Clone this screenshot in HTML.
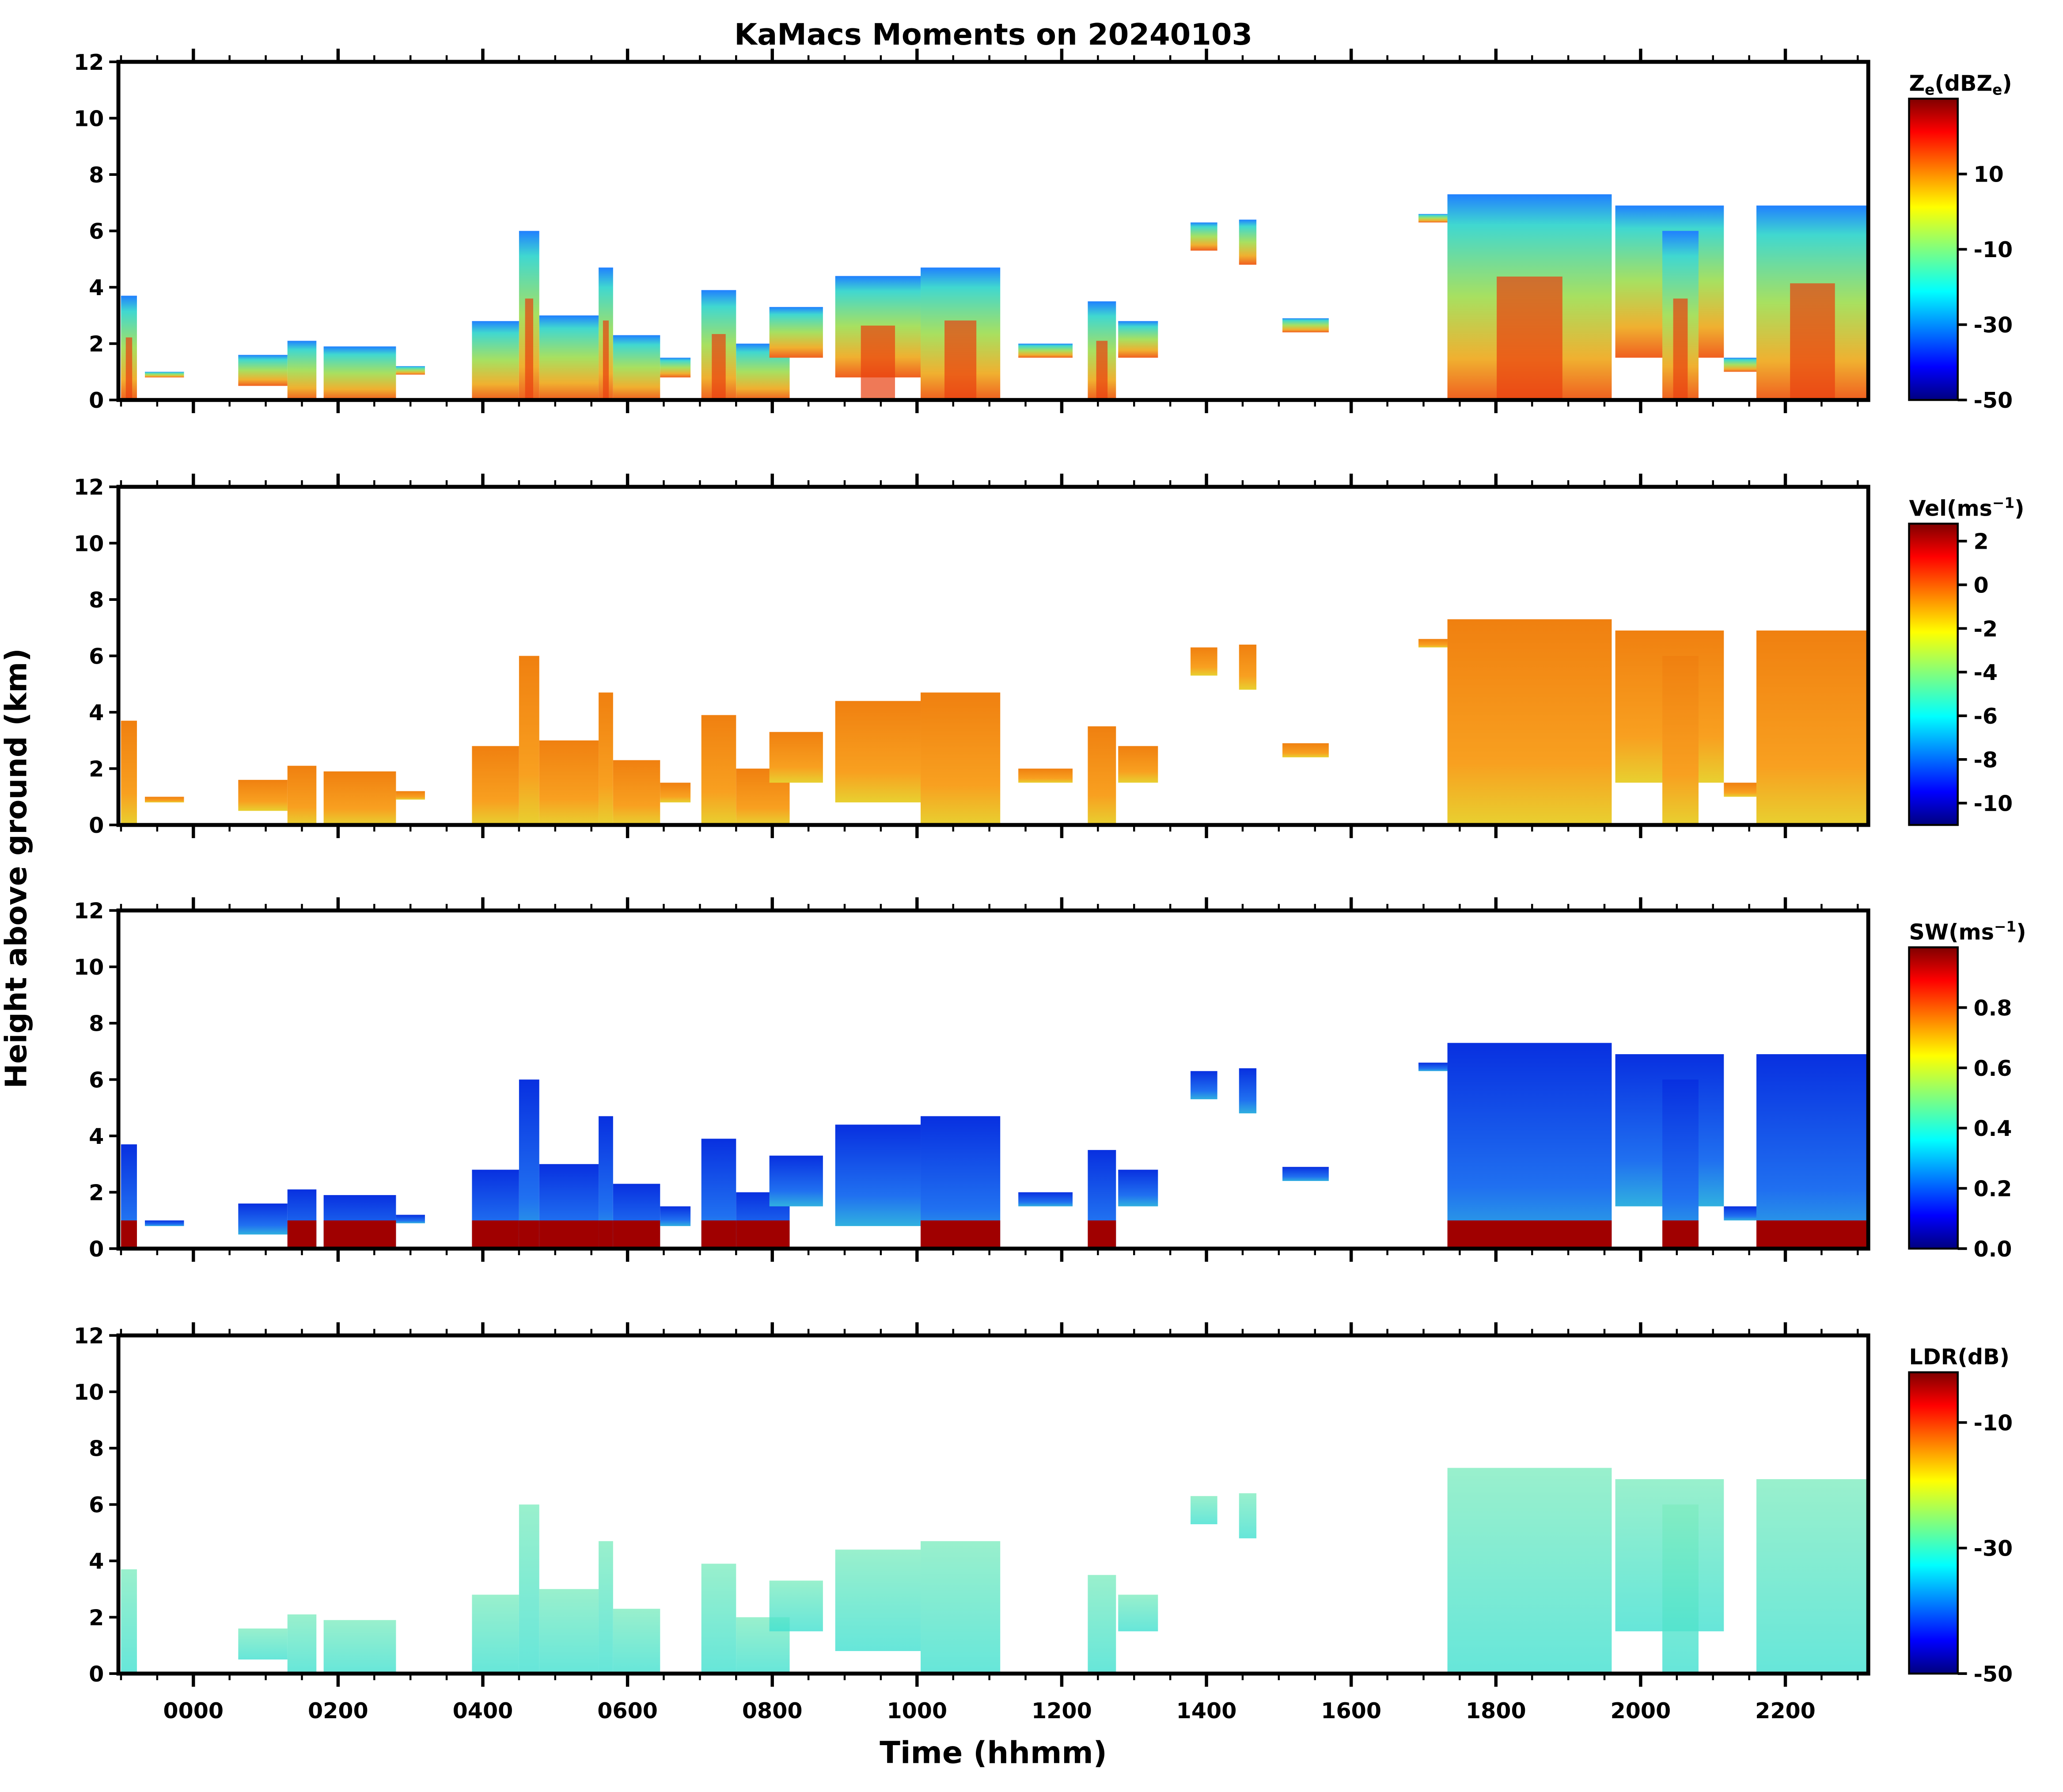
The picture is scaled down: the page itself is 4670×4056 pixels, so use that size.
<!DOCTYPE html>
<html><head><meta charset="utf-8"><style>
html,body{margin:0;padding:0;background:#fff}
svg{display:block}
text{font-family:"DejaVu Sans","Liberation Sans",sans-serif;font-weight:bold;fill:#000}
</style></head><body>
<svg id="chart" width="4670" height="4056" viewBox="0 0 1568 1362" preserveAspectRatio="none" xmlns="http://www.w3.org/2000/svg">
<defs>
<linearGradient id="jet" x1="0" y1="1" x2="0" y2="0">
<stop offset="0" stop-color="#00007f"/><stop offset="0.11" stop-color="#0000ff"/><stop offset="0.36" stop-color="#00ffff"/>
<stop offset="0.5" stop-color="#7fff7f"/><stop offset="0.64" stop-color="#ffff00"/><stop offset="0.89" stop-color="#ff0000"/><stop offset="1" stop-color="#7f0000"/>
</linearGradient>
<linearGradient id="gZe" x1="0" y1="0" x2="0" y2="1">
<stop offset="0" stop-color="#2080ff"/><stop offset="0.15" stop-color="#40d8d0"/><stop offset="0.5" stop-color="#a8e060"/><stop offset="0.8" stop-color="#f0b030"/><stop offset="1" stop-color="#f06020"/>
</linearGradient>
<linearGradient id="gVel" x1="0" y1="0" x2="0" y2="1">
<stop offset="0" stop-color="#f08010"/><stop offset="0.7" stop-color="#f8a020"/><stop offset="1" stop-color="#e8d030"/>
</linearGradient>
<linearGradient id="gSW" x1="0" y1="0" x2="0" y2="1">
<stop offset="0" stop-color="#0830e0"/><stop offset="0.7" stop-color="#2070f0"/><stop offset="1" stop-color="#30b0e0"/>
</linearGradient>
<linearGradient id="gLDR" x1="0" y1="0" x2="0" y2="1">
<stop offset="0" stop-color="#80ecc0"/><stop offset="1" stop-color="#40e0d0"/>
</linearGradient>
</defs>
<text x="755" y="34" text-anchor="middle" font-size="22.5">KaMacs Moments on 20240103</text>
<text transform="translate(20,660) rotate(-90)" text-anchor="middle" font-size="22.5">Height above ground (km)</text>
<text x="755" y="1340" text-anchor="middle" font-size="23">Time (hhmm)</text>
<g id="panels"></g>
</svg>
<script>
// cloud segments: start hour, end hour, top km, base km
const segStart=[-1.0,-0.67,0.62,1.3,1.8,2.8,3.85,4.5,4.78,5.6,5.8,6.45,7.02,7.5,7.96,8.87,10.05,11.4,12.36,12.78,13.78,14.45,15.05,16.93,17.33,19.65,20.3,21.15,21.6];
const segEnd=[-0.78,-0.13,1.3,1.7,2.8,3.2,4.5,4.78,5.6,5.8,6.45,6.87,7.5,8.24,8.7,10.05,11.15,12.15,12.75,13.33,14.15,14.69,15.69,17.33,19.6,21.15,20.8,21.6,23.15];
const segTop=[3.7,1.0,1.6,2.1,1.9,1.2,2.8,6.0,3.0,4.7,2.3,1.5,3.9,2.0,3.3,4.4,4.7,2.0,3.5,2.8,6.3,6.4,2.9,6.6,7.3,6.9,6.0,1.5,6.9];
const segBase=[0,0.8,0.5,0,0,0.9,0,0,0,0,0,0.8,0,0,1.5,0.8,0,1.5,0,1.5,5.3,4.8,2.4,6.3,0,1.5,0,1.0,0];
const hourTicks=[0,2,4,6,8,10,12,14,16,18,20,22];
const tickLabels=["0000","0200","0400","0600","0800","1000","1200","1400","1600","1800","2000","2200"];
const heightTicks=[0,2,4,6,8,10,12];
const panelTops=[47,370,692,1015];
const panelNames=["ze","vel","sw","ldr"];
const cbTitles=["Z<tspan font-size='11' dy='3'>e</tspan><tspan dy='-3'>(dBZ</tspan><tspan font-size='11' dy='3'>e</tspan><tspan dy='-3'>)</tspan>","Vel(ms<tspan font-size='11' dy='-6'>−1</tspan><tspan dy='6'>)</tspan>","SW(ms<tspan font-size='11' dy='-6'>−1</tspan><tspan dy='6'>)</tspan>","LDR(dB)"];
const cbVals=[[10,-10,-30,-50],[2,0,-2,-4,-6,-8,-10],[0.8,0.6,0.4,0.2,0.0],[-10,-30,-50]];
const cbRange=[[-50,30],[-11,2.8],[0,1],[-50,-2]];

const X0=90,X1=1420,H0=-1.036,HPX=55;
const xs=h=>X0+(h-H0)*HPX;
const PH=257;
const ys=(k,top)=>top+PH-k/12*PH;
const NS="http://www.w3.org/2000/svg";
const root=document.getElementById('panels');
function el(t,a,p){const e=document.createElementNS(NS,t);for(const k in a)e.setAttribute(k,a[k]);(p||root).appendChild(e);return e;}
const fills=["url(#gZe)","url(#gVel)","url(#gSW)","url(#gLDR)"];
panelTops.forEach((top,pi)=>{
  const g=el('g',{});
  
  
  for(let i=0;i<segStart.length;i++){
    if(pi===3&&(segTop[i]-segBase[i])<1.0)continue;
    const x=xs(segStart[i]),w=xs(segEnd[i])-x,y=ys(segTop[i],top),h=ys(segBase[i],top)-y;
    const r=el('rect',{x:x,y:y,width:w,height:h,fill:fills[pi],opacity:pi===3?0.8:1},g);
    
    
    if(pi===2&&segBase[i]===0){
      const b=el('rect',{x:x,y:ys(1,top),width:w,height:ys(0,top)-ys(1,top),fill:"#a00000"},g);
      
      
    }
    if(pi===0&&segTop[i]>3&&segBase[i]<1){
      const c=el('rect',{x:x+w*0.3,y:ys(segTop[i]*0.6,top),width:w*0.4,height:ys(0,top)-ys(segTop[i]*0.6,top),fill:"#e84010",opacity:0.7},g);
      
      
    }
  }
  const f=el('rect',{x:X0,y:top,width:X1-X0,height:PH,fill:"none",stroke:"#000","stroke-width":3},g);
  
  
  for(let h=-1;h<=23;h+=0.5){
    const x=xs(h),maj=Math.abs(h%2)<1e-6,len=maj?10:5;
    el('line',{x1:x,y1:top+PH,x2:x,y2:top+PH+len,stroke:"#000","stroke-width":maj?2.5:1.5},g);
    el('line',{x1:x,y1:top,x2:x,y2:top-len,stroke:"#000","stroke-width":maj?2.5:1.5},g);
  }
  if(pi===3){hourTicks.forEach((h,i)=>{
    const t=el('text',{x:xs(h),y:top+PH+34,'text-anchor':'middle','font-size':16.5},g);t.textContent=tickLabels[i];
    
  });}
  heightTicks.forEach(k=>{
    const y=ys(k,top);
    el('line',{x1:X0,y1:y,x2:X0-7,y2:y,stroke:"#000","stroke-width":2},g);
    const t=el('text',{x:X0-11,y:y+6,'text-anchor':'end','font-size':16.5},g);t.textContent=k;
    
  });
  const cbTop=top+28,cbH=PH-28;
  const cb=el('rect',{x:1451,y:cbTop,width:37,height:cbH,fill:"url(#jet)",stroke:"#000","stroke-width":1.5},g);
  
  
  const tt=el('text',{x:1451,y:top+22,'font-size':16.5},g);tt.innerHTML=cbTitles[pi];
  
  const [lo,hi]=cbRange[pi];
  cbVals[pi].forEach(v=>{
    const y=cbTop+cbH-(v-lo)/(hi-lo)*cbH;
    el('line',{x1:1488,y1:y,x2:1495,y2:y,stroke:"#000","stroke-width":2},g);
    const t=el('text',{x:1500,y:y+6,'font-size':16.5},g);t.textContent=pi===2?v.toFixed(1):v;
    
  });
});
</script>
</body></html>
